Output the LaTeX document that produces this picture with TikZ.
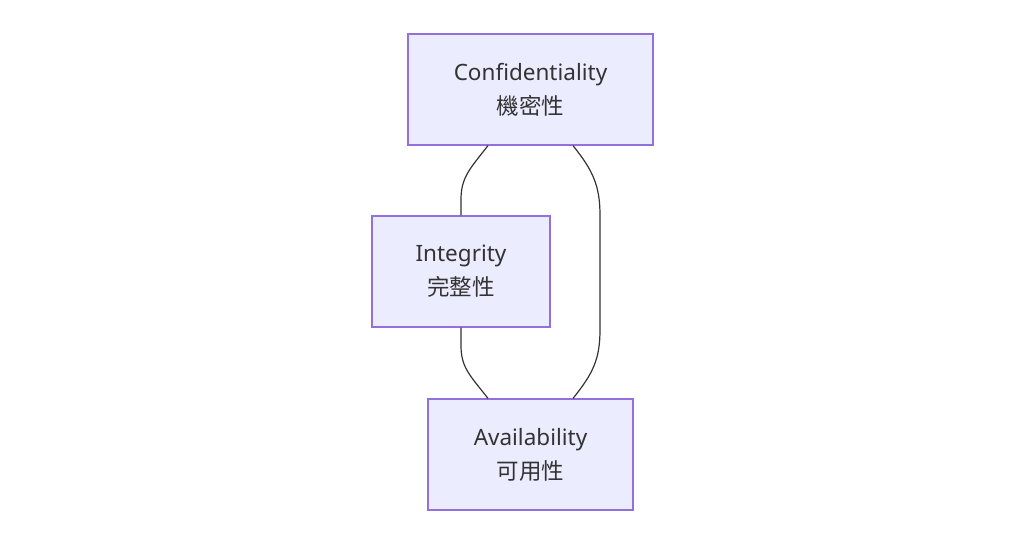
\documentclass[tikz,border=0pt]{standalone}
\usepackage{fontspec}
\setmainfont{Noto Sans}
\newfontfamily\cjk{Noto Sans CJK SC}
\definecolor{boxfill}{HTML}{ECECFF}
\definecolor{boxline}{HTML}{9370DB}
\definecolor{txt}{HTML}{333333}
\definecolor{edge}{HTML}{333333}
\begin{document}
\begin{tikzpicture}[x=1pt,y=-1pt,
  box/.style={draw=boxline,fill=boxfill,line width=1.2pt,text=txt,align=center,
    inner sep=0pt,font=\fontsize{22.5}{34}\selectfont},
  link/.style={draw=edge,line width=1.2pt}]
\useasboundingbox[fill=white] (0,0) rectangle (1024,552);
\node[box,minimum width=245,minimum height=111] (c) at (530.5,89.5) {Confidentiality\\{\cjk 機密性}};
\node[box,minimum width=178,minimum height=111] (i) at (461,271.5) {Integrity\\{\cjk 完整性}};
\node[box,minimum width=205,minimum height=111] (a) at (530.5,454.5) {Availability\\{\cjk 可用性}};
\draw[link] ([xshift=-42.5]c.south) .. controls +(-18,23) and +(0,-22) .. ([yshift=16]i.north) -- (i.north);
\draw[link] ([xshift=42.5]c.south) .. controls +(20,25) and +(0,-30) .. ([xshift=69.5,yshift=-70]c.south) -- ([xshift=69.5,yshift=69]a.north) .. controls +(0,30) and +(20,-25) .. ([xshift=42.5]a.north);
\draw[link] (i.south) -- ([yshift=-18]i.south) .. controls +(0,22) and +(-18,-23) .. ([xshift=-42.5]a.north);
\end{tikzpicture}
\end{document}
